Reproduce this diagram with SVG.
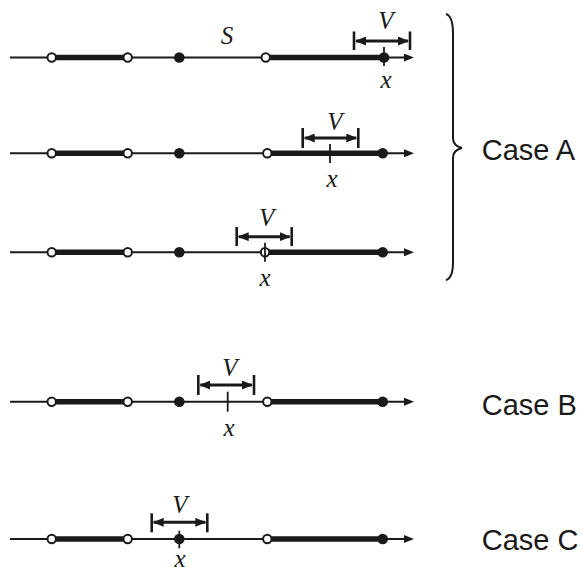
<svg xmlns="http://www.w3.org/2000/svg" width="582" height="570" viewBox="0 0 582 570">
<style>
.ax{stroke:#1a1a1a;stroke-width:2;fill:none}
.thk{stroke:#1a1a1a;stroke-width:5.5;fill:none}
.op{fill:#fff;stroke:#1a1a1a;stroke-width:2}
.fl{fill:#1a1a1a}
.tk{stroke:#1a1a1a;stroke-width:1.8}
.bar{stroke:#1a1a1a;stroke-width:2.6}
.va{stroke:#1a1a1a;stroke-width:3}
.lab{font-family:"Liberation Serif",serif;font-style:italic;font-size:25px;fill:#1a1a1a;text-anchor:middle}
.case{font-family:"Liberation Sans",Arial,sans-serif;font-size:29px;fill:#1a1a1a}
</style>
<defs>
<marker id="ah" markerUnits="userSpaceOnUse" markerWidth="10" markerHeight="8" viewBox="0 0 10 8" refX="2" refY="4" orient="auto"><path d="M0,0 L10,4 L0,8 z" fill="#1a1a1a"/></marker>
<marker id="vh" markerUnits="userSpaceOnUse" markerWidth="11" markerHeight="9" viewBox="0 0 11 9" refX="10" refY="4.5" orient="auto-start-reverse"><path d="M0,0 L11,4.5 L0,9 z" fill="#1a1a1a"/></marker>
</defs>

<g id="line1">
<line class="ax" x1="10" y1="57.5" x2="406" y2="57.5" marker-end="url(#ah)"/>
<line class="thk" x1="51.7" y1="57.5" x2="127.7" y2="57.5"/>
<line class="thk" x1="265.7" y1="57.5" x2="384" y2="57.5"/>
<line class="tk" x1="384" y1="47" x2="384" y2="66"/>
<circle class="op" cx="51.7" cy="57.5" r="4.2"/>
<circle class="op" cx="127.7" cy="57.5" r="4.2"/>
<circle class="fl" cx="179.3" cy="57.5" r="5.3"/>
<circle class="op" cx="265.7" cy="57.5" r="4.2"/>
<circle class="fl" cx="384" cy="57.5" r="5.3"/>
<line class="bar" x1="354" y1="31.5" x2="354" y2="50"/>
<line class="bar" x1="410" y1="31.5" x2="410" y2="50"/>
<line class="va" x1="356" y1="41" x2="408" y2="41" marker-start="url(#vh)" marker-end="url(#vh)"/>
<text class="lab" x="386" y="28.5">V</text>
<text class="lab" x="386" y="88">x</text>
<text class="lab" x="227" y="43.5">S</text>
</g>

<g id="line2">
<line class="ax" x1="10" y1="153.3" x2="406" y2="153.3" marker-end="url(#ah)"/>
<line class="thk" x1="51.7" y1="153.3" x2="127.7" y2="153.3"/>
<line class="thk" x1="267.3" y1="153.3" x2="382.7" y2="153.3"/>
<line class="tk" x1="330" y1="144" x2="330" y2="163"/>
<circle class="op" cx="51.7" cy="153.3" r="4.2"/>
<circle class="op" cx="127.7" cy="153.3" r="4.2"/>
<circle class="fl" cx="179.3" cy="153.3" r="5.3"/>
<circle class="op" cx="267.3" cy="153.3" r="4.2"/>
<circle class="fl" cx="382.7" cy="153.3" r="5.3"/>
<line class="bar" x1="302.7" y1="128" x2="302.7" y2="148"/>
<line class="bar" x1="358.3" y1="128" x2="358.3" y2="148"/>
<line class="va" x1="304.7" y1="138" x2="356.3" y2="138" marker-start="url(#vh)" marker-end="url(#vh)"/>
<text class="lab" x="335" y="129.5">V</text>
<text class="lab" x="332" y="186.5">x</text>
</g>

<g id="line3">
<line class="ax" x1="10" y1="252.3" x2="406" y2="252.3" marker-end="url(#ah)"/>
<line class="thk" x1="51.7" y1="252.3" x2="127.7" y2="252.3"/>
<line class="thk" x1="265" y1="252.3" x2="382.7" y2="252.3"/>
<circle class="op" cx="51.7" cy="252.3" r="4.2"/>
<circle class="op" cx="127.7" cy="252.3" r="4.2"/>
<circle class="fl" cx="179.3" cy="252.3" r="5.3"/>
<circle class="op" cx="265" cy="252.3" r="4.2"/>
<circle class="fl" cx="382.7" cy="252.3" r="5.3"/>
<line class="tk" x1="265" y1="242.7" x2="265" y2="261.7"/>
<line class="bar" x1="236.7" y1="227" x2="236.7" y2="246"/>
<line class="bar" x1="291.7" y1="227" x2="291.7" y2="246"/>
<line class="va" x1="238.7" y1="236.7" x2="289.7" y2="236.7" marker-start="url(#vh)" marker-end="url(#vh)"/>
<text class="lab" x="266.7" y="225.5">V</text>
<text class="lab" x="265" y="285.5">x</text>
</g>

<g id="brace">
<path class="ax" d="M446,14 Q453,16 453,34 L453,138 Q453,146 462,148 Q453,150 453,158 L453,262 Q453,278 446,280"/>
</g>
<g id="caseA"><text class="case" x="481.7" y="160">Case A</text></g>

<g id="lineB">
<line class="ax" x1="10" y1="401.7" x2="406" y2="401.7" marker-end="url(#ah)"/>
<line class="thk" x1="51.7" y1="401.7" x2="127.7" y2="401.7"/>
<line class="thk" x1="267.3" y1="401.7" x2="382.7" y2="401.7"/>
<line class="tk" x1="227.7" y1="391.7" x2="227.7" y2="411.7"/>
<circle class="op" cx="51.7" cy="401.7" r="4.2"/>
<circle class="op" cx="127.7" cy="401.7" r="4.2"/>
<circle class="fl" cx="179.3" cy="401.7" r="5.3"/>
<circle class="op" cx="267.3" cy="401.7" r="4.2"/>
<circle class="fl" cx="382.7" cy="401.7" r="5.3"/>
<line class="bar" x1="198.3" y1="375" x2="198.3" y2="395"/>
<line class="bar" x1="254" y1="375" x2="254" y2="395"/>
<line class="va" x1="200.3" y1="385" x2="252" y2="385" marker-start="url(#vh)" marker-end="url(#vh)"/>
<text class="lab" x="230" y="375.5">V</text>
<text class="lab" x="229" y="435.5">x</text>
</g>
<g id="caseB"><text class="case" x="481.7" y="415">Case B</text></g>

<g id="lineC">
<line class="ax" x1="10" y1="539" x2="406" y2="539" marker-end="url(#ah)"/>
<line class="thk" x1="51.7" y1="539" x2="127.7" y2="539"/>
<line class="thk" x1="267.3" y1="539" x2="382.7" y2="539"/>
<line class="tk" x1="179.3" y1="530.7" x2="179.3" y2="548.3"/>
<circle class="op" cx="51.7" cy="539" r="4.2"/>
<circle class="op" cx="127.7" cy="539" r="4.2"/>
<circle class="fl" cx="179.3" cy="539" r="5.3"/>
<circle class="op" cx="267.3" cy="539" r="4.2"/>
<circle class="fl" cx="382.7" cy="539" r="5.3"/>
<line class="bar" x1="151.7" y1="513.3" x2="151.7" y2="532.3"/>
<line class="bar" x1="207.3" y1="513.3" x2="207.3" y2="532.3"/>
<line class="va" x1="153.7" y1="522.3" x2="205.3" y2="522.3" marker-start="url(#vh)" marker-end="url(#vh)"/>
<text class="lab" x="180" y="512.7">V</text>
<text class="lab" x="180" y="566.5">x</text>
</g>
<g id="caseC"><text class="case" x="481.7" y="550">Case C</text></g>
</svg>
